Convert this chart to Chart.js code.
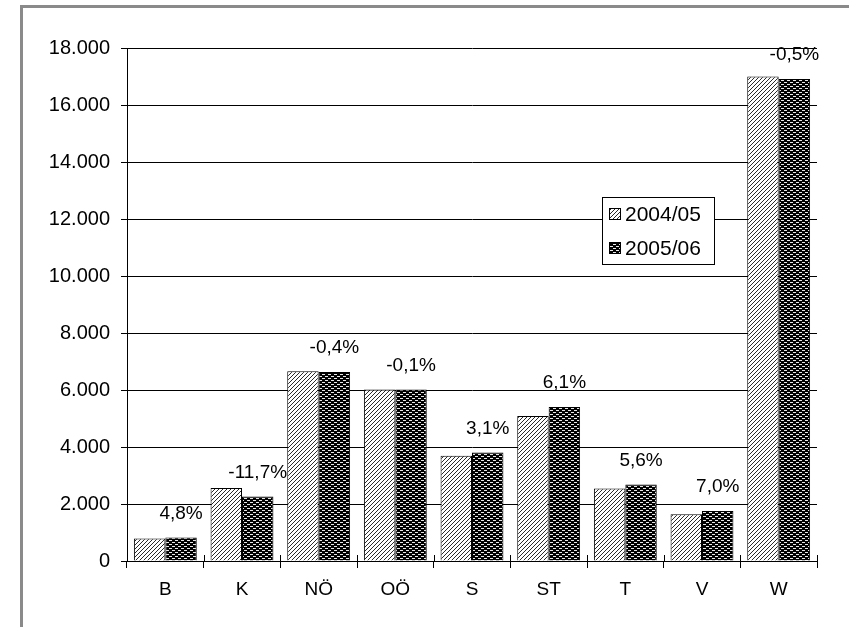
<!DOCTYPE html>
<html>
<head>
<meta charset="utf-8">
<script src="https://cdn.jsdelivr.net/npm/chart.js@4.4.1/dist/chart.umd.min.js"></script>
<style>
  html, body { margin: 0; padding: 0; background: #fff; overflow: hidden; }
  #wrap { position: relative; width: 849px; height: 627px; overflow: hidden; }
  #frame { position: absolute; left: 20px; top: 5px; width: 900px; height: 700px; border: 3px solid #8a8a8a; box-sizing: border-box; }
  #plot { position: absolute; left: 0; top: 0; }
</style>
</head>
<body>
<div id="wrap">
  <div id="frame"></div>
  <canvas id="plot" width="849" height="627"></canvas>
</div>
<script>
const categories = ['B', 'K', 'NÖ', 'OÖ', 'S', 'ST', 'T', 'V', 'W'];
const seriesNames = ['2004/05', '2005/06'];
const values0405 = [790, 2565, 6660, 6020, 3690, 5090, 2540, 1640, 17000];
const values0506 = [828, 2262, 6630, 6014, 3805, 5400, 2683, 1755, 16915];
const changeLabels = ['4,8%', '-11,7%', '-0,4%', '-0,1%', '3,1%', '6,1%', '5,6%', '7,0%', '-0,5%'];
const yMax = 18000;
const yStep = 2000;

const FONT = "'Liberation Sans', Arial, sans-serif";

function hatchPattern() {
    let c = document.createElement('canvas');
    c.width = 4; c.height = 4;
    let g = c.getContext('2d');
    g.fillStyle = '#fff';
    g.fillRect(0, 0, 4, 4);
    g.strokeStyle = '#2a2a2a';
    g.lineWidth = 1;
    g.beginPath();
    g.moveTo(-1, 5); g.lineTo(5, -1);
    g.moveTo(-1, 1); g.lineTo(1, -1);
    g.moveTo(3, 5); g.lineTo(5, 3);
    g.stroke();
    return g.createPattern(c, 'repeat');
}

function dotPattern() {
    let c = document.createElement('canvas');
    c.width = 6; c.height = 4;
    let g = c.getContext('2d');
    g.fillStyle = '#000';
    g.fillRect(0, 0, 6, 4);
    g.fillStyle = '#e8e8e8';
    g.fillRect(1, 0, 3, 1);
    g.fillRect(4, 2, 2, 1);
    g.fillRect(0, 2, 1, 1);
    return g.createPattern(c, 'repeat');
}

const patterns = [hatchPattern(), dotPattern()];

const decorations = {
    id: 'decorations',
    afterDatasetsDraw(chart) {
        const ctx = chart.ctx;
        const meta = chart.getDatasetMeta(1);
        ctx.save();
        ctx.fillStyle = '#000';
        ctx.font = '19px ' + FONT;
        ctx.textAlign = 'center';
        ctx.textBaseline = 'middle';
        meta.data.forEach((bar, i) => {
            ctx.fillText(changeLabels[i], bar.x, bar.y - 24);
        });
        ctx.restore();
    },
    afterDraw(chart) {
        const ctx = chart.ctx;
        const xs = chart.scales.x;
        const step = xs.width / categories.length;
        ctx.save();
        ctx.strokeStyle = '#000';
        ctx.lineWidth = 1;
        ctx.beginPath();
        for (let i = 0; i <= categories.length; i++) {
            let x = Math.round(xs.left + i * step) + 0.5;
            ctx.moveTo(x, xs.top - 6);
            ctx.lineTo(x, xs.top);
        }
        ctx.stroke();

        // legend box
        const lx = 602, ly = 197, lw = 112, lh = 67;
        ctx.fillStyle = '#fff';
        ctx.fillRect(lx, ly, lw, lh);
        ctx.strokeRect(lx + 0.5, ly + 0.5, lw, lh);
        ctx.font = '21px ' + FONT;
        ctx.textAlign = 'left';
        ctx.textBaseline = 'middle';
        chart.data.datasets.forEach((ds, i) => {
            let cy = ly + 17 + i * 34;
            ctx.fillStyle = ds.backgroundColor;
            ctx.fillRect(609, cy - 6, 11, 11);
            ctx.strokeRect(609.5, cy - 5.5, 11, 11);
            ctx.fillStyle = '#000';
            ctx.fillText(ds.label, 625, cy + 1);
        });
        ctx.restore();
    }
};

let ctx = document.getElementById('plot').getContext('2d');
new Chart(ctx, {
    type: 'bar',
    data: {
        labels: categories,
        datasets: [{
            label: seriesNames[0],
            data: values0405,
            backgroundColor: patterns[0],
            borderColor: '#000',
            borderWidth: 1
        },
        {
            label: seriesNames[1],
            data: values0506,
            backgroundColor: patterns[1],
            borderColor: '#000',
            borderWidth: 1
        }]
    },
    options: {
        responsive: false,
        animation: false,
        devicePixelRatio: 1,
        layout: { padding: { left: 0, right: 32, top: 48, bottom: 0 } },
        plugins: {
            legend: { display: false },
            tooltip: { enabled: false }
        },
        datasets: {
            bar: { categoryPercentage: 0.82, barPercentage: 1 }
        },
        scales: {
            x: {
                grid: {
                    offset: true,
                    drawOnChartArea: false,
                    tickLength: 7,
                    color: '#000'
                },
                border: { color: '#000' },
                ticks: {
                    color: '#000',
                    padding: 10,
                    font: { family: FONT, size: 19 }
                },
                afterFit(scale) { scale.height = 66; }
            },
            y: {
                min: 0,
                max: yMax,
                grid: {
                    color: '#000',
                    tickLength: 6
                },
                border: { color: '#000' },
                ticks: {
                    stepSize: yStep,
                    color: '#000',
                    padding: 11,
                    font: { family: FONT, size: 20 },
                    callback: v => v.toLocaleString('de-DE')
                },
                afterFit(scale) { scale.width = 127; }
            }
        }
    },
    plugins: [decorations]
});
</script>
</body>
</html>
